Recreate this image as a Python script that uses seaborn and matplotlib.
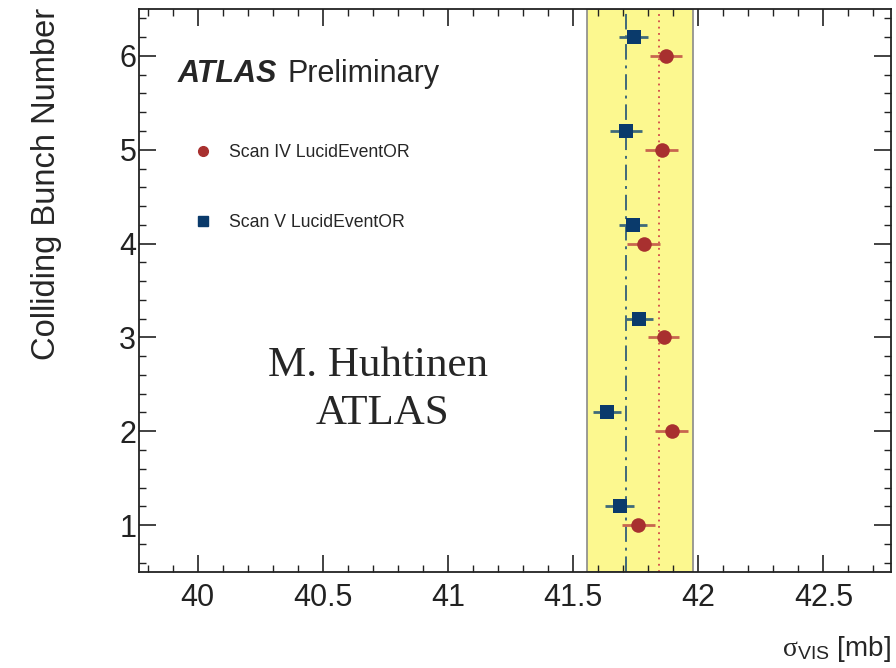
import matplotlib
matplotlib.use("Agg")
import matplotlib.pyplot as plt
import seaborn as sns
import pandas as pd
import numpy as np
from matplotlib.ticker import MultipleLocator
from matplotlib.lines import Line2D

# ---- data ----
bunch = [1, 2, 3, 4, 5, 6]
scan4_sigma = [41.761, 41.893, 41.861, 41.781, 41.853, 41.870]
scan4_err = [0.066, 0.066, 0.062, 0.066, 0.066, 0.064]
scan5_sigma = [41.686, 41.637, 41.765, 41.738, 41.710, 41.742]
scan5_err = [0.058, 0.056, 0.052, 0.056, 0.064, 0.058]
scan5_offset = 0.2
scan4_mean = 41.841
scan5_mean = 41.713
band_lo, band_hi = 41.557, 41.980
labels = ["Scan IV LucidEventOR", "Scan V LucidEventOR"]

df4 = pd.DataFrame({"x": scan4_sigma, "y": bunch, "err": scan4_err})
df5 = pd.DataFrame({"x": scan5_sigma, "y": [b + scan5_offset for b in bunch], "err": scan5_err})

sns.set_theme(style="ticks")
plt.rcParams["font.family"] = ["Liberation Sans", "DejaVu Sans"]
plt.rcParams["mathtext.fontset"] = "custom"
plt.rcParams["mathtext.rm"] = "Liberation Serif"
plt.rcParams["mathtext.sf"] = "Liberation Sans"
plt.rcParams["mathtext.it"] = "Liberation Serif:italic"

W, H = 896, 668
fig = plt.figure(figsize=(W / 100, H / 100), dpi=100)
ax = fig.add_axes([139 / W, 1 - 572 / H, (891 - 139) / W, (572 - 9) / H])

red = "#a8302f"
red_err = "#c8654f"
blue = "#0a3a6b"
blue_err = "#3f6a7a"

ax.axvspan(band_lo, band_hi, facecolor="#fcf88f", edgecolor="#8a8a8a", linewidth=1.2, zorder=0)
ax.axvline(scan5_mean, color="#3f6a7a", linestyle=(0, (8, 3, 1.5, 3)), linewidth=1.4, zorder=1)
ax.axvline(scan4_mean, color="#d24a4a", linestyle=(0, (1, 2.5)), linewidth=1.3, zorder=1)

ax.errorbar(df4["x"], df4["y"], xerr=df4["err"], fmt="none", ecolor=red_err, elinewidth=2, capsize=0, zorder=2)
ax.errorbar(df5["x"], df5["y"], xerr=df5["err"], fmt="none", ecolor=blue_err, elinewidth=2, capsize=0, zorder=2)
sns.scatterplot(data=df4, x="x", y="y", ax=ax, color=red, marker="o", s=110, edgecolor=red, linewidth=0, zorder=3)
sns.scatterplot(data=df5, x="x", y="y", ax=ax, color=blue, marker="s", s=100, edgecolor=blue, linewidth=0, zorder=3)

ax.set_xlim(39.765, 42.77)
ax.set_ylim(0.5, 6.5)
ax.xaxis.set_minor_locator(MultipleLocator(0.1))
ax.yaxis.set_minor_locator(MultipleLocator(0.2))
ax.set_xticks([40, 40.5, 41, 41.5, 42, 42.5])
ax.set_xticklabels(["40", "40.5", "41", "41.5", "42", "42.5"])
ax.set_yticks([1, 2, 3, 4, 5, 6])
ax.set_yticklabels(["1", "2", "3", "4", "5", "6"])
ax.tick_params(which="both", direction="in", top=True, right=True, colors="#222222")
ax.tick_params(which="major", length=12, width=1.2, labelsize=22)
ax.tick_params(which="minor", length=5, width=1.0)
ax.tick_params(axis="x", which="major", pad=8)
ax.tick_params(axis="y", which="major", pad=2)
for s in ax.spines.values():
    s.set_linewidth(1.3)
    s.set_color("#222222")

ax.set_xlabel(r"$\mathrm{\sigma}_{\mathsf{VIS}}$ [mb]", fontsize=20, loc="right", labelpad=15)
ax.set_ylabel("")
fig.text(47 / W, 1 - 8 / H, "Colliding Bunch Number", rotation=90, ha="center", va="top", fontsize=23.5)

fig.text(178 / W, 1 - 82 / H, "ATLAS", fontsize=22, fontweight="bold", fontstyle="italic", ha="left", va="baseline")
fig.text(287 / W, 1 - 82 / H, "Preliminary", fontsize=22, ha="left", va="baseline")

handles = [
    Line2D([], [], marker="o", color=red, linestyle="none", markersize=7),
    Line2D([], [], marker="s", color=blue, linestyle="none", markersize=6.5),
]
ax.legend(handles, labels, loc="upper left", bbox_to_anchor=(46 / (891 - 139), 1 - 128 / (572 - 9)),
          frameon=False, fontsize=12.7, labelspacing=3.0, handletextpad=0.9, handlelength=1.2,
          borderaxespad=0)

fig.text(378 / W, 1 - 366 / H, "M. Huhtinen", family=["Liberation Serif"], fontsize=31, ha="center", va="center")
fig.text(382 / W, 1 - 414 / H, "ATLAS", family=["Liberation Serif"], fontsize=31, ha="center", va="center")

fig.savefig("out.png", dpi=100)
